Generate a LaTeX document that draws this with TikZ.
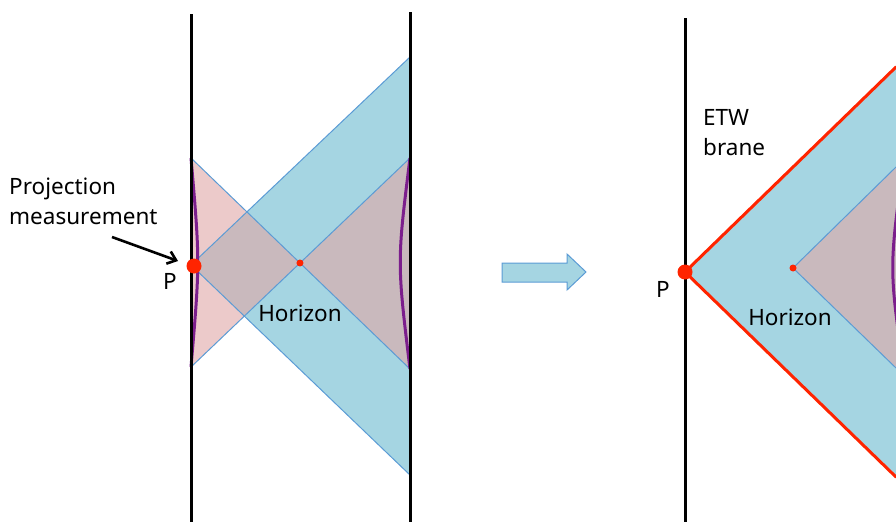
\documentclass[tikz,border=0pt]{standalone}
\usepackage{fontspec}
\setmainfont{Noto Sans}
\usetikzlibrary{arrows.meta}
\definecolor{blueF}{HTML}{A5D5E2}
\definecolor{pinkF}{HTML}{ECCACA}
\definecolor{mixF}{HTML}{C9B9BD}
\definecolor{edgeB}{HTML}{5B9BD5}
\definecolor{purp}{HTML}{7B1E8C}
\definecolor{redP}{HTML}{FF2400}
\tikzset{
  edge/.style={draw=edgeB, line width=1pt},
  wall/.style={draw=black, line width=3pt},
  purpc/.style={draw=purp, line width=3pt},
  etw/.style={draw=redP, line width=3pt, line cap=round},
  lbl/.style={font=\fontsize{22.5}{30}\selectfont, inner sep=0pt},
}
\begin{document}
\begin{tikzpicture}[x=1pt,y=-1pt]
\useasboundingbox (0,0) rectangle (896,522);
% ---------- left panel ----------
\coordinate (P) at (191,265);
\coordinate (A) at (410,57);
\coordinate (B) at (410,475);
\coordinate (L1) at (191,158);
\coordinate (L2) at (191,367);
\coordinate (R1) at (410,158);
\coordinate (R2) at (410,369);
\coordinate (H) at (intersection of L1--R2 and L2--R1);
\coordinate (X1) at (intersection of P--A and L1--R2);
\coordinate (X2) at (intersection of P--B and L2--R1);
\fill[blueF] (P) -- (A) -- (B) -- cycle;
\fill[pinkF] (L1) -- (H) -- (L2) -- cycle;
\fill[mixF] (P) -- (X1) -- (H) -- (X2) -- cycle;
\fill[mixF] (H) -- (R1) -- (R2) -- cycle;
\draw[edge] (A) -- (P) -- (B);
\draw[edge] (L1) -- (R2);
\draw[edge] (L2) -- (R1);
\draw[purpc] (L1) .. controls (200,262) .. (L2);
\draw[purpc] (R1) .. controls (397,262) .. (R2);
\draw[wall] (191,14) -- (191,522);
\draw[wall] (410,12) -- (410,522);
\fill[redP] (194,266) circle (7.5);
\fill[redP] (H) circle (3.5);
\node[lbl] (pl) at (170,281) {P};
\node[lbl] (hl) at (300,313) {Horizon};
\node[lbl, align=left, anchor=west] (pm) at (9,201) {Projection\\measurement};
\coordinate (pmA) at (112,237);
\coordinate (pmB) at (178,261);
\draw[line width=2.6pt, -{Straight Barb[length=8pt,width=13pt]}] (pmA) -- (pmB);
% ---------- block arrow ----------
\draw[fill=blueF, draw=edgeB, line width=1pt] (502,263) -- (567,263) -- (567,254) -- (586,272) -- (567,290) -- (567,282) -- (502,282) -- cycle;
% ---------- right panel ----------
\begin{scope}
\clip (600,0) rectangle (896,522);
\coordinate (Q) at (685,272);
\coordinate (QA) at (896,67);
\coordinate (QB) at (896,477);
\coordinate (Hq) at (793,268);
\coordinate (QR1) at (896,167);
\coordinate (QR2) at (896,368);
\fill[blueF] (Q) -- (QA) -- (QB) -- cycle;
\fill[mixF] (Hq) -- (QR1) -- (QR2) -- cycle;
\draw[edge] (QR1) -- (Hq) -- (QR2);
\draw[purpc] (904,160) .. controls (889,268) .. (904,372);
\draw[etw] (QA) -- (Q) -- (QB);
\end{scope}
\draw[wall] (685,18) -- (685,522);
\fill[redP] (Q) circle (7.5);
\fill[redP] (Hq) circle (3.5);
\node[lbl] (pr) at (663,289) {P};
\node[lbl] (hr) at (790,317) {Horizon};
\node[lbl, align=left, anchor=west] (etwl) at (703,133) {ETW\\brane};
\end{tikzpicture}
\end{document}
